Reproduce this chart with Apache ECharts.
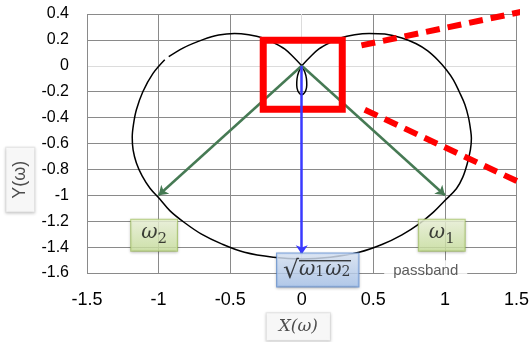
<!DOCTYPE html>
<html>
<head>
<meta charset="utf-8">
<script src="https://cdn.jsdelivr.net/npm/echarts@6/dist/echarts.min.js"></script>
<style>
  html, body { margin: 0; padding: 0; background: #fff; }
  #chart { width: 532px; height: 342px; }
</style>
</head>
<body>
<div id="chart"></div>
<script>
// Axis ticks
const xTickLabels = ['-1.5', '-1', '-0.5', '0', '0.5', '1', '1.5'];
const yTickLabels = ['-1.6', '-1.4', '-1.2', '-1', '-0.8', '-0.6', '-0.4', '-0.2', '0', '0.2', '0.4'];

// Locus of X(ω) + jY(ω): right lobe from the origin round the bottom,
// then back up the left side (null marks the break in the trace).
const locusX = [0, 0.06, 0.12, 0.19, 0.27, 0.37, 0.47, 0.58, 0.70, 0.80, 0.88, 0.95, 1.01, 1.06, 1.10, 1.14, 1.165, 1.18, 1.185, 1.178, 1.155, 1.125, 1.08, 1.0, 0.92, 0.82, 0.70, 0.56, 0.40, 0.20, 0,
  -0.20, -0.40, -0.56, -0.70, -0.82, -0.92, -0.99, -1.06, -1.115, -1.155, -1.178, -1.184, -1.175, -1.155, -1.11, -1.04, -0.957, null,
  -0.929, -0.83, -0.69, -0.58, -0.47, -0.37, -0.27, -0.19, -0.12, -0.06, 0];
const locusY = [0, 0.07, 0.13, 0.175, 0.215, 0.24, 0.25, 0.245, 0.215, 0.17, 0.115, 0.045, -0.03, -0.11, -0.20, -0.30, -0.40, -0.50, -0.56, -0.65, -0.76, -0.86, -0.95, -1.04, -1.13, -1.22, -1.305, -1.38, -1.44, -1.478, -1.492,
  -1.478, -1.44, -1.375, -1.30, -1.21, -1.12, -1.03, -0.945, -0.85, -0.75, -0.65, -0.55, -0.45, -0.34, -0.20, -0.06, 0.047, null,
  0.070, 0.137, 0.202, 0.238, 0.25, 0.24, 0.215, 0.175, 0.13, 0.07, 0];

// Small loop under the origin
const loopX = [0, -0.022, -0.033, -0.035, -0.027, -0.012, 0, 0.012, 0.027, 0.035, 0.033, 0.022, 0];
const loopY = [0, -0.05, -0.10, -0.15, -0.195, -0.217, -0.222, -0.217, -0.195, -0.15, -0.10, -0.05, 0];

// Band-edge vectors ω1, ω2 and the centre frequency √(ω1ω2)
const omega1Tip = [1, -1];
const omega2Tip = [-1, -1];
const centreTip = [0, -1.455];

// Zoom window round the origin and its two call-out lines
const zoomBoxX = [-0.269, 0.283];
const zoomBoxY = [-0.335, 0.198];
const calloutUpper = [[0.417, 0.158], [1.606, 0.433]];
const calloutLower = [[0.44, -0.339], [1.606, -0.944]];

const toPoints = (xs, ys) => xs.map((x, i) => (x === null ? null : [x, ys[i]]));

const boxPath = [
  [(zoomBoxX[0] + zoomBoxX[1]) / 2, zoomBoxY[1]],
  [zoomBoxX[1], zoomBoxY[1]],
  [zoomBoxX[1], zoomBoxY[0]],
  [zoomBoxX[0], zoomBoxY[0]],
  [zoomBoxX[0], zoomBoxY[1]],
  [(zoomBoxX[0] + zoomBoxX[1]) / 2, zoomBoxY[1]]
];

const G = echarts.graphic;
const greenFill = new G.LinearGradient(0, 0, 0, 1, [
  { offset: 0, color: '#f1f8de' }, { offset: 1, color: '#cde5a0' }
]);
const blueFill = new G.LinearGradient(0, 0, 0, 1, [
  { offset: 0, color: '#dfeafa' }, { offset: 1, color: '#a9c6ef' }
]);

// Vinculum for the square root: a thin rule along the top of each text run
// (one pixel wide so the run keeps its own text width when stretched)
function vinculum(h) {
  const c = document.createElement('canvas');
  c.width = 1; c.height = h;
  const g = c.getContext('2d');
  g.fillStyle = '#111';
  g.fillRect(0, 0, 1, 1.4);
  return c;
}
const bar = { image: vinculum(22) };

const ink = '#111';
const it = { fontFamily: 'DejaVu Serif', fontStyle: 'italic', color: ink };
const up = { fontFamily: 'DejaVu Serif', color: ink };

// ω with a lowered digit beside it
const subscriptRich = {
  w: Object.assign({}, it, { fontSize: 20, padding: [0, 0, 6, 0] }),
  s: Object.assign({}, up, { fontSize: 15, padding: [9, 0, 2, 0] })
};
const rootRich = {
  r: Object.assign({}, up, { fontSize: 25, padding: [0, 0, 0, 0], height: 27 }),
  w: Object.assign({}, it, { fontSize: 20, padding: [0, 0, 2, 0], backgroundColor: bar }),
  s: Object.assign({}, up, { fontSize: 14, padding: [5, 1, 3, 0], backgroundColor: bar })
};

function note(pos, label) {
  return { value: pos, label: Object.assign({ show: true, position: 'inside' }, label) };
}

const boxShadow = { shadowBlur: 3, shadowColor: 'rgba(0,0,0,0.25)', shadowOffsetY: 1 };

const notes = [
  note([-1.031, -1.308], Object.assign({
    formatter: '{w|ω}{s|2}', backgroundColor: greenFill, borderColor: '#a7c766', borderWidth: 1,
    padding: [3, 10, 2, 10], rich: subscriptRich
  }, boxShadow)),
  note([0.978, -1.308], Object.assign({
    formatter: '{w|ω}{s|1}', backgroundColor: greenFill, borderColor: '#a7c766', borderWidth: 1,
    padding: [3, 10, 2, 10], rich: subscriptRich
  }, boxShadow)),
  note([0.112, -1.577], Object.assign({
    formatter: '{r|√}{w|ω}{s|1}{w|ω}{s|2}', backgroundColor: blueFill,
    borderColor: '#5f8fd4', borderWidth: 1, padding: [4, 7, 2, 6], rich: rootRich
  }, boxShadow)),
  note([0.866, -1.582], {
    formatter: 'passband', backgroundColor: '#fff', padding: [3, 9],
    fontFamily: 'Liberation Sans', fontSize: 15, color: '#333'
  }),
  note([-0.024, -2.015], Object.assign({
    formatter: 'X(ω)', backgroundColor: '#fff', borderColor: '#e2e2e2', borderWidth: 1,
    padding: [5, 12], fontFamily: 'DejaVu Serif', fontStyle: 'italic', fontSize: 17, color: '#222'
  }, boxShadow, { shadowColor: 'rgba(0,0,0,0.2)' })),
  note([-1.966, -0.88], Object.assign({
    formatter: 'Y(ω)', rotate: 90, backgroundColor: '#fff', borderColor: '#e2e2e2', borderWidth: 1,
    padding: [5, 13], fontFamily: 'Liberation Sans', fontSize: 18, color: '#222'
  }, boxShadow, { shadowColor: 'rgba(0,0,0,0.2)' }))
];

const darkGrid = '#8a8a8a';
const zeroGrid = '#dcdcdc';

const chart = echarts.init(document.getElementById('chart'), null, { renderer: 'canvas' });
chart.setOption({
  animation: false,
  backgroundColor: '#fff',
  grid: { left: 87, right: 15, top: 14, bottom: 69, containLabel: false },
  xAxis: {
    type: 'value', min: -1.5, max: 1.5, interval: 0.5,
    axisLine: { show: false }, axisTick: { show: false },
    axisLabel: {
      margin: 18, fontSize: 18, fontFamily: 'Liberation Sans', color: '#000',
      formatter: (v) => xTickLabels[Math.round((v + 1.5) / 0.5)]
    },
    splitLine: { show: true, lineStyle: { width: 1, color: [darkGrid, darkGrid, darkGrid, zeroGrid, darkGrid, darkGrid, darkGrid] } }
  },
  yAxis: {
    type: 'value', min: -1.6, max: 0.4, interval: 0.2,
    axisLine: { show: false }, axisTick: { show: false },
    axisLabel: {
      margin: 18, fontSize: 16, fontFamily: 'Liberation Sans', color: '#000',
      formatter: (v) => yTickLabels[Math.round((v + 1.6) / 0.2)]
    },
    splitLine: { show: true, lineStyle: { width: 1, color: [darkGrid, darkGrid, darkGrid, darkGrid, darkGrid, darkGrid, darkGrid, darkGrid, zeroGrid, darkGrid, darkGrid] } }
  },
  series: [
    {
      type: 'line', data: toPoints(locusX, locusY), smooth: 0.35, connectNulls: false,
      showSymbol: false, symbol: 'none', clip: false, z: 2,
      lineStyle: { color: '#000', width: 1.5 }
    },
    {
      type: 'line', data: toPoints(loopX, loopY), smooth: 0.4,
      showSymbol: false, symbol: 'none', clip: false, z: 2,
      lineStyle: { color: '#000', width: 1.5 }
    },
    {
      type: 'lines', coordinateSystem: 'cartesian2d', z: 3,
      symbol: ['none', 'arrow'], symbolSize: 9,
      lineStyle: { color: '#467a54', width: 2.5, opacity: 1, curveness: 0 },
      data: [{ coords: [[0, 0], omega2Tip] }, { coords: [[0, 0], omega1Tip] }]
    },
    {
      type: 'line', data: boxPath, showSymbol: false, symbol: 'none', clip: false, z: 4,
      lineStyle: { color: '#ff0000', width: 7, join: 'miter', cap: 'butt' }
    },
    {
      type: 'line', data: calloutUpper, showSymbol: false, symbol: 'none', clip: false, z: 4,
      lineStyle: { color: '#ff0000', width: 6, type: [14, 8], cap: 'butt' }
    },
    {
      type: 'line', data: calloutLower, showSymbol: false, symbol: 'none', clip: false, z: 4,
      lineStyle: { color: '#ff0000', width: 6, type: [14, 8], cap: 'butt' }
    },
    {
      type: 'lines', coordinateSystem: 'cartesian2d', z: 5,
      symbol: ['none', 'arrow'], symbolSize: 9,
      lineStyle: { color: '#3a3aff', width: 2.5, opacity: 1, curveness: 0 },
      data: [{ coords: [[0, 0], centreTip] }]
    },
    {
      type: 'scatter', data: notes, symbolSize: 1, clip: false, z: 6,
      itemStyle: { color: 'rgba(0,0,0,0)' }, silent: true
    }
  ]
});
</script>
</body>
</html>
